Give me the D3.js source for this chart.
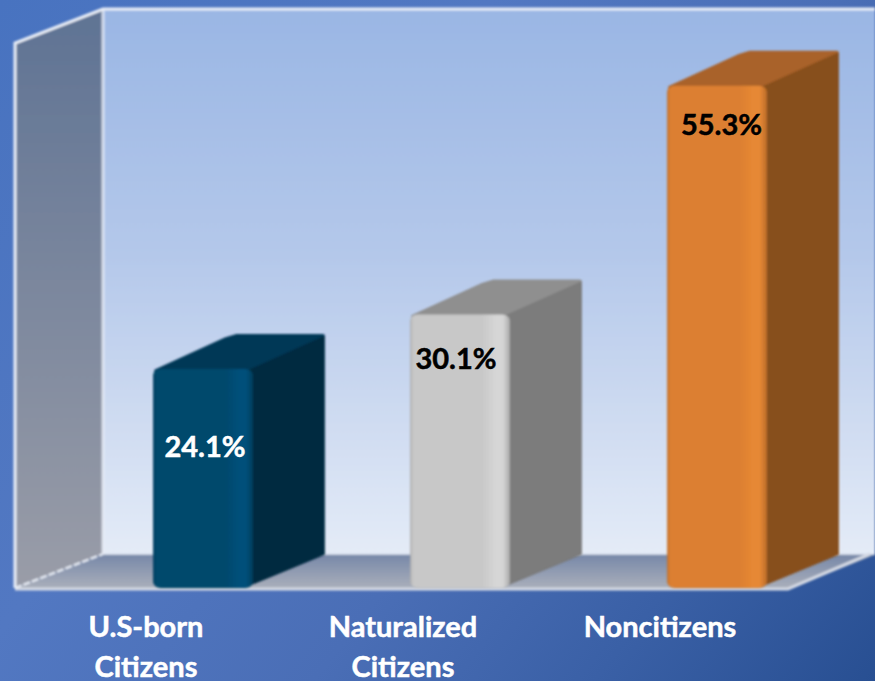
<!DOCTYPE html>
<html><head><meta charset="utf-8">
<script src="https://cdn.jsdelivr.net/npm/d3@7"></script>
<style>html,body{margin:0;padding:0;background:#4a72bd;overflow:hidden}svg{display:block}text{font-family:Lato,"Open Sans",sans-serif;font-weight:700}</style>
</head><body><svg id="c" width="875" height="681"></svg>
<script>
const categories=[["U.S-born","Citizens"],["Naturalized","Citizens"],["Noncitizens"]];
const keys=["us","nat","non"];
const values=[24.1,30.1,55.3];
const labelColors=["#ffffff","#000000","#000000"];
const frontColors=["#03486c","#c8c8c8","#dc7f30"];
const frontLight=["#05507a","#d6d6d6","#e68834"];
const sideColors=["#022a41","#7b7b7b","#874f1d"];
const topColors=["#023856","#8f8f8f","#a9622a"];
const W=875,H=681,dx=88,dy=-34,depthX=69,depthY=-33;
const svg=d3.select("#c"),defs=svg.append("defs");
const x=d3.scaleBand().domain(keys).range([76,847]).paddingInner(0.6).paddingOuter(0.3);
const y=d3.scaleLinear().domain([0,60]).range([588,43]);
function lg(id,x1,y1,x2,y2,stops,abs){const g=defs.append("linearGradient").attr("id",id).attr("x1",x1).attr("y1",y1).attr("x2",x2).attr("y2",y2);
 if(abs)g.attr("gradientUnits","userSpaceOnUse");
 stops.forEach(s=>g.append("stop").attr("offset",s[0]).attr("stop-color",s[1]));}
lg("bg",0,0,875,681,[[0,"#4873c0"],[.35,"#5278c2"],[.6,"#4a6eb6"],[.8,"#3a60a6"],[1,"#284f92"]],true);
lg("wall",0,0,0,1,[[0,"#9ab6e4"],[.45,"#b4c8ea"],[1,"#e4ebf7"]]);
lg("left",0,0,0,1,[[0,"#5f7394"],[1,"#9a9da8"]]);
lg("floor",0,0,0,1,[[0,"#7687a8"],[1,"#abb0bb"]]);
defs.append("filter").attr("id","soft").append("feGaussianBlur").attr("stdDeviation",0.8);
svg.append("rect").attr("width",W).attr("height",H).attr("fill","url(#bg)");
const line=d3.line();
const x0=15,x1=788,yb=y(0),yt=y(60);
const room=svg.append("g").attr("filter","url(#soft)");
room.append("path").attr("d",line([[x0+dx,yt+dy],[W,yt+dy],[W,yb+dy],[x0+dx,yb+dy]])+"Z").attr("fill","url(#wall)");
room.append("path").attr("d",line([[x0,yt],[x0+dx,yt+dy],[x0+dx,yb+dy],[x0,yb]])+"Z").attr("fill","url(#left)");
room.append("path").attr("d",line([[x0,yb],[x0+dx,yb+dy],[W,yb+dy],[W,yb+dy+1],[x1,yb+1]])+"Z").attr("fill","url(#floor)");
const rim="#e9eef7";
room.append("path").attr("d",line([[x0,yb],[x0,yt],[x0+dx,yt+dy],[W,yt+dy]])).attr("fill","none").attr("stroke",rim).attr("stroke-width",3);
room.append("path").attr("d",line([[x0+dx,yt+dy],[x0+dx,yb+dy]])).attr("fill","none").attr("stroke",rim).attr("stroke-width",3).attr("stroke-opacity",.8);
room.append("path").attr("d",line([[x0+dx,yb+dy],[W,yb+dy]])).attr("fill","none").attr("stroke","#dfe5f1").attr("stroke-width",1.5);
room.append("path").attr("d",line([[x0,yb+1],[x1,yb+1],[W-5,yb+dy]])).attr("fill","none").attr("stroke","#d4d9e4").attr("stroke-width",3);
room.append("path").attr("d",line([[x0,yb],[x0+dx,yb+dy]])).attr("fill","none").attr("stroke",rim).attr("stroke-width",2).attr("stroke-dasharray","7 2");
const bars=svg.append("g").selectAll("g").data(keys).join("g").attr("filter","url(#soft)");
bars.each(function(k,i){
 const g=d3.select(this),L=x(k),w=x.bandwidth(),R=L+w,t=y(values[i]),b=y(0);
 lg("f"+i,0,0,1,0,[[0,d3.color(frontColors[i]).darker(.4)],[.03,frontColors[i]],[.72,frontColors[i]],[.86,frontLight[i]],[.93,frontLight[i]],[1,d3.color(frontColors[i]).darker(.45)]]);
 lg("s"+i,0,0,1,0,[[0,d3.color(sideColors[i]).brighter(.3)],[.12,sideColors[i]],[1,sideColors[i]]]);
 g.append("path").attr("d",line([[L+3,t+2],[L+depthX+4,t+depthY+3],[L+depthX+14,t+depthY],[R+depthX-2,t+depthY],[R-4,t+6]])+"Z").attr("fill",topColors[i]).attr("stroke",topColors[i]).attr("stroke-width",4).attr("stroke-linejoin","round");
 g.append("path").attr("d",line([[R-10,t+3],[R+depthX-1,t+depthY+1],[R+depthX-1,b+depthY-1],[R-12,b-1]])+"Z").attr("fill","url(#s"+i+")").attr("stroke",sideColors[i]).attr("stroke-width",2).attr("stroke-linejoin","round");
 g.append("rect").attr("x",L).attr("y",t).attr("width",w-3).attr("height",b-t).attr("rx",8).attr("ry",6).attr("fill","url(#f"+i+")");
});
const valueLabels=svg.append("g").selectAll("text").data(keys).join("text")
 .attr("x",(k,i)=>[205,456,721.5][i]).attr("y",(k,i)=>y(values[i])+[88,54,49][i])
 .attr("text-anchor","middle").attr("font-size",29).attr("stroke",(k,i)=>labelColors[i]).attr("stroke-width",.5).attr("fill",(k,i)=>labelColors[i]).text((k,i)=>values[i].toFixed(1)+"%");
const cats=svg.append("g").selectAll("text").data(categories).join("text").attr("text-anchor","middle").attr("font-size",29).attr("fill","#fff").attr("stroke","#fff").attr("stroke-width",.5)
 .attr("x",(d,i)=>[146,403,660][i]);
cats.each(function(d,i){d3.select(this).selectAll("tspan").data(d).join("tspan").attr("x",[146,403,660][i]).attr("y",(s,j)=>637+j*40).text(s=>s);});
</script></body></html>
